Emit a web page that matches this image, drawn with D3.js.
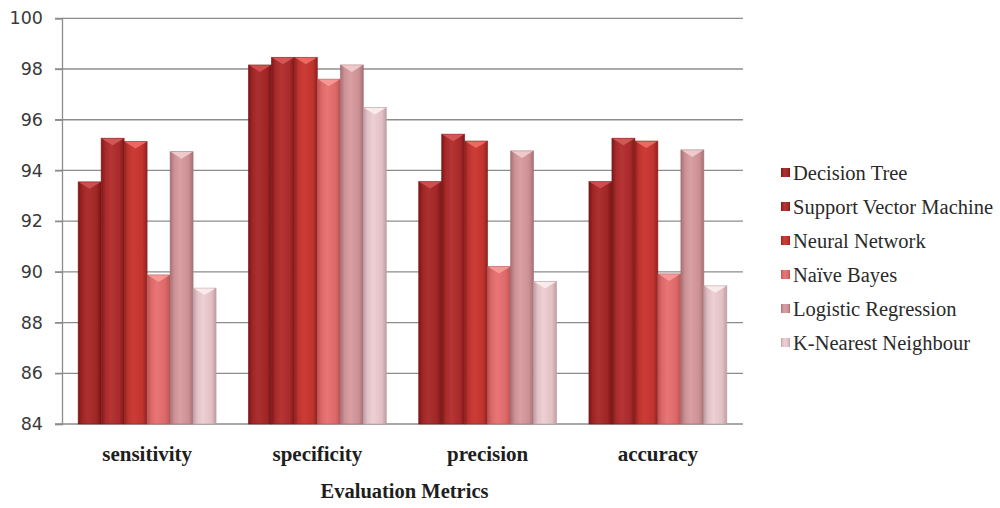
<!DOCTYPE html>
<html>
<head>
<meta charset="utf-8">
<script src="https://cdn.jsdelivr.net/npm/d3@7"></script>
<style>
  html, body { margin: 0; padding: 0; background: #fff; }
  svg { display: block; }
</style>
</head>
<body>
<svg id="chart" width="1000" height="508"></svg>
<script>
// ---- data ----
const categories = ["sensitivity", "specificity", "precision", "accuracy"];
const seriesNames = ["Decision Tree", "Support Vector Machine", "Neural Network", "Naïve Bayes", "Logistic Regression", "K-Nearest Neighbour"];
const decisionTree = [93.55, 98.16, 93.56, 93.56];
const supportVectorMachine = [95.27, 98.46, 95.43, 95.27];
const neuralNetwork = [95.14, 98.46, 95.16, 95.16];
const naiveBayes = [89.88, 97.60, 90.21, 89.92];
const logisticRegression = [94.74, 98.16, 94.77, 94.81];
const kNearestNeighbour = [89.36, 96.48, 89.62, 89.45];
const yTicks = [84, 86, 88, 90, 92, 94, 96, 98, 100];
const xTitle = "Evaluation Metrics";

const seriesValues = [decisionTree, supportVectorMachine, neuralNetwork, naiveBayes, logisticRegression, kNearestNeighbour];
const colors = [
  { dark: "#781616", base: "#a02626", light: "#ac3030", cap: "#d05050" },
  { dark: "#7e1818", base: "#a82a2a", light: "#b63434", cap: "#d85858" },
  { dark: "#922020", base: "#c0342e", light: "#cc3c36", cap: "#ee6a64" },
  { dark: "#b85454", base: "#de6868", light: "#e87676", cap: "#f69a98" },
  { dark: "#a47074", base: "#cc9094", light: "#d8a0a4", cap: "#f0cccf" },
  { dark: "#bc9ea2", base: "#e2c0c4", light: "#ecd0d3", cap: "#faeced" }
];

// ---- layout ----
const svg = d3.select("#chart");
const mLeft = 62, mRight = 743, mTop = 18.3, mBottom = 424;

const x0 = d3.scaleBand().domain(categories).range([mLeft, mRight]).paddingInner(0.19).paddingOuter(0.095);
const x1 = d3.scaleBand().domain(d3.range(seriesNames.length)).range([0, x0.bandwidth()]);
const y = d3.scaleLinear().domain([84, 100]).range([mBottom, mTop]);

// gradients
const defs = svg.append("defs");
colors.forEach((c, i) => {
  const g = defs.append("linearGradient").attr("id", "g" + i).attr("x1", 0).attr("x2", 1).attr("y1", 0).attr("y2", 0);
  g.append("stop").attr("offset", 0).attr("stop-color", c.dark);
  g.append("stop").attr("offset", 0.18).attr("stop-color", c.base);
  g.append("stop").attr("offset", 0.42).attr("stop-color", c.light);
  g.append("stop").attr("offset", 0.8).attr("stop-color", c.base);
  g.append("stop").attr("offset", 1).attr("stop-color", c.dark);
});

// gridlines
svg.append("g").selectAll("line").data(yTicks).join("line")
  .attr("x1", mLeft - 7).attr("x2", mRight)
  .attr("y1", d => y(d)).attr("y2", d => y(d))
  .attr("stroke", "#8c8c8c").attr("stroke-width", 1.3);

// y axis
const yAxis = svg.append("g").attr("transform", `translate(${mLeft},0)`)
  .call(d3.axisLeft(y).tickValues(yTicks).tickSize(7).tickPadding(12).tickFormat(d3.format("d")));
yAxis.select(".domain").attr("stroke", "#8c8c8c").attr("stroke-width", 1.3);
yAxis.selectAll(".tick line").attr("stroke", "#8c8c8c").attr("stroke-width", 1.3);
yAxis.selectAll(".tick text").attr("fill", "#3a3a3a").attr("font-family", "DejaVu Sans, Verdana, sans-serif").attr("font-size", 17.5);

// bars
const groups = svg.append("g").selectAll("g").data(categories).join("g")
  .attr("transform", d => `translate(${x0(d)},0)`);

groups.each(function(cat, ci) {
  const g = d3.select(this);
  seriesValues.forEach((vals, si) => {
    const v = vals[ci];
    const bx = x1(si), bw = x1.bandwidth();
    const by = y(v);
    g.append("rect")
      .attr("x", bx).attr("y", by)
      .attr("width", bw).attr("height", y(84) - by)
      .attr("fill", `url(#g${si})`)
      .attr("stroke", colors[si].dark).attr("stroke-opacity", 0.7).attr("stroke-width", 0.8);
    g.append("path")
      .attr("d", `M${bx + 0.8},${by + 0.4} L${bx + bw / 2},${by + 7} L${bx + bw - 0.8},${by + 0.4} Z`)
      .attr("fill", colors[si].cap).attr("opacity", 0.95);
  });
});

// x category labels
svg.append("g").selectAll("text").data(categories).join("text")
  .attr("x", d => x0(d) + x0.bandwidth() / 2)
  .attr("y", 461)
  .attr("text-anchor", "middle")
  .attr("font-family", "Liberation Serif, Times New Roman, serif")
  .attr("font-weight", "bold")
  .attr("font-size", 21)
  .attr("fill", "#1e1e1e")
  .text(d => d);

// x title
svg.append("text")
  .attr("x", (mLeft + mRight) / 2 + 2).attr("y", 498)
  .attr("text-anchor", "middle")
  .attr("font-family", "Liberation Serif, Times New Roman, serif")
  .attr("font-weight", "bold")
  .attr("font-size", 20.5)
  .attr("fill", "#1e1e1e")
  .text(xTitle);

// legend
const legend = svg.append("g").attr("transform", "translate(781,0)");
const legendY = d3.scalePoint().domain(seriesNames).range([173, 343]);
const li = legend.selectAll("g").data(seriesNames).join("g")
  .attr("transform", d => `translate(0,${legendY(d)})`);
li.append("rect").attr("x", 0).attr("y", -5).attr("width", 9).attr("height", 9)
  .attr("fill", (d, i) => `url(#g${i})`);
li.append("text").attr("x", 12).attr("y", 6.5)
  .attr("font-family", "Liberation Serif, Times New Roman, serif")
  .attr("font-size", 20.5)
  .attr("fill", "#2a2a2a")
  .text(d => d);
</script>
</body>
</html>
